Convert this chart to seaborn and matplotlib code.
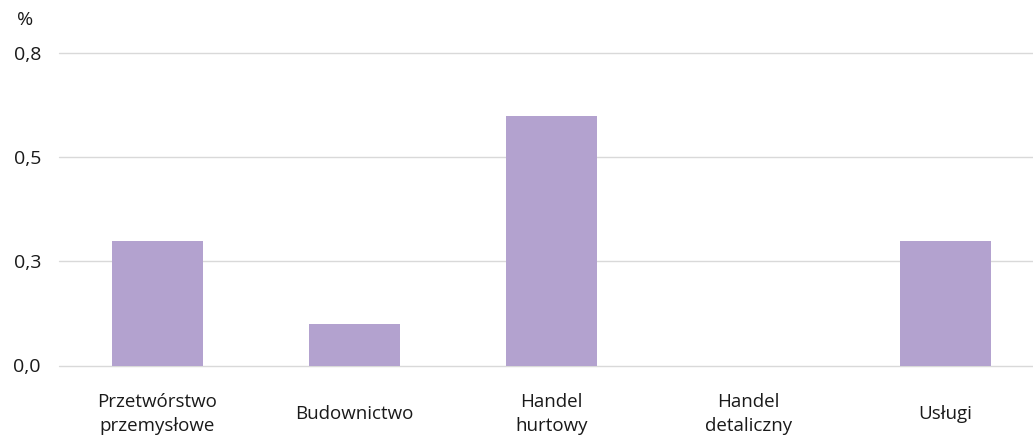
import matplotlib
matplotlib.use("Agg")
import matplotlib.pyplot as plt
import seaborn as sns
import pandas as pd

categories = ["Przetwórstwo\nprzemysłowe", "Budownictwo", "Handel\nhurtowy", "Handel\ndetaliczny", "Usługi"]
values = [0.30, 0.10, 0.60, 0.0, 0.30]
y_ticks = [0.0, 0.25, 0.5, 0.75]
y_tick_labels = ["0,0", "0,3", "0,5", "0,8"]
unit_label = "%"

sns.set_theme(style="white")
plt.rcParams["font.family"] = ["Open Sans", "DejaVu Sans"]

df = pd.DataFrame({"cat": categories, "val": values})

fig = plt.figure(figsize=(10.33, 4.41), dpi=100)
ax = fig.add_axes([59 / 1033, (441 - 365.5) / 441, (1033 - 59) / 1033, (365.5 - 53) / 441])

sns.barplot(data=df, x="cat", y="val", color="#b3a2cf", width=0.46, ax=ax,
            saturation=1, linewidth=0)

ax.set_ylim(0, 0.75)
ax.set_xlim(-0.5, 4.5 - 11 / 197)
ax.set_yticks(y_ticks)
ax.set_yticklabels(y_tick_labels, fontsize=14, color="#1a1a1a")
ax.tick_params(axis="x", labelsize=13.5, colors="#1a1a1a", length=0, pad=35)
ax.tick_params(axis="y", length=0, pad=13)
for lbl in ax.get_xticklabels():
    lbl.set_linespacing(1.45)
    lbl.set_verticalalignment("center")
ax.set_xlabel("")
ax.set_ylabel("")
ax.grid(axis="y", color="#d9d9d9", linewidth=1)
for gl in ax.get_ygridlines():
    gl.set_clip_on(False)
ax.set_axisbelow(True)
for s in ax.spines.values():
    s.set_visible(False)

fig.text(25 / 1033, 1 - 20 / 441, unit_label, ha="center", va="center", fontsize=14, color="#1a1a1a")

fig.savefig("out.png", dpi=100)
